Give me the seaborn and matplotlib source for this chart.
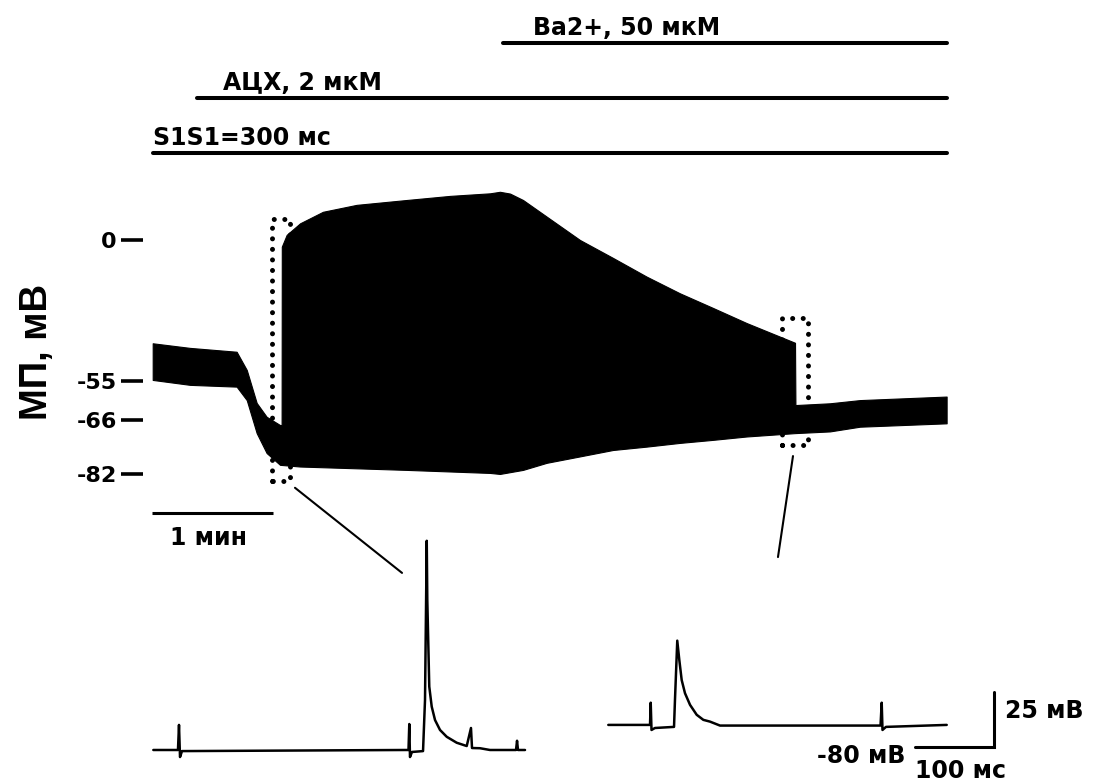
import numpy as np
import matplotlib
matplotlib.use("Agg")
import matplotlib.pyplot as plt
from matplotlib.patches import ConnectionPatch
import seaborn as sns

sns.set_theme(style="white")
plt.rcParams["font.family"] = ["DejaVu Sans"]
plt.rcParams["text.color"] = "black"
plt.rcParams["ytick.color"] = "black"
plt.rcParams["xtick.color"] = "black"
plt.rcParams["axes.labelcolor"] = "black"

# ---------------- data ----------------
# Envelope of the membrane potential over the whole recording (t in s, mV)
top_t = [0.0, 18.4, 41.4, 46.4, 51.3, 56.2, 62.8, 63.6, 63.7, 66.1, 72.7, 84.0,
         100.6, 125.3, 146.7, 166.4, 171.3, 176.3, 182.7, 194.4, 210.8, 227.1, 243.7,
         260.1, 276.4, 293.0, 316.9, 317.1, 334.1, 348.9, 391.7]
top_mv = [-40.3, -42.1, -43.6, -50.7, -61.2, -65.1, -67.5, -67.5, -2.6, 2.0, 6.5, 11.0,
          13.7, 15.6, 17.2, 18.2, 18.8, 18.1, 15.6, 9.1, 0.0, -7.0, -14.3,
          -20.8, -26.5, -32.4, -40.1, -61.8, -61.3, -60.4, -59.4]
bot_t = [0.0, 18.4, 41.4, 46.4, 51.3, 56.2, 62.8, 72.7, 125.3, 166.4, 171.3, 182.7,
         194.4, 210.8, 227.1, 243.7, 260.1, 276.4, 293.0, 316.9, 334.1, 348.9, 391.7]
bot_mv = [-54.6, -56.1, -56.6, -60.4, -69.9, -75.8, -79.3, -79.8, -80.8, -81.7, -82.0, -80.8,
          -78.7, -76.8, -74.9, -73.9, -72.8, -71.9, -70.9, -69.9, -69.4, -68.0, -67.0]

ytick_values = [0, -55, -66, -82]
ytick_labels = ["0", "-55", "-66", "-82"]

# Application protocol (start, end in s)
protocol_labels = ["S1S1=300 мс", "АЦХ, 2 мкМ", "Ba2+, 50 мкМ"]
protocol_start = [0.0, 22.0, 173.0]
protocol_end = [392.0, 392.0, 392.0]

# Expanded fragments (t in ms, mV)
frag1_t = [4.2, 35.4, 36.7, 38.0, 40.5, 322.8, 327.2, 328.2, 329.1, 331.6, 345.6, 348.1,
           350.3, 351.0, 353.5, 356.6, 360.8, 367.1, 375.6, 388.2, 400.9, 406.3, 407.6,
           417.7, 430.4, 463.3, 464.6, 465.8, 474.7]
frag1_mv = [-81.5, -81.5, -70.1, -84.7, -82.0, -81.5, -81.5, -69.7, -84.7, -82.4, -82.0, -58.8,
            13.6, -13.3, -52.7, -61.8, -67.9, -72.4, -75.5, -78.2, -79.7, -71.5, -80.6,
            -80.7, -81.5, -81.5, -77.3, -81.5, -81.5]
frag2_t = [10.5, 63.3, 64.2, 65.2, 69.6, 93.7, 94.9, 97.8, 100.4, 103.4, 107.6, 114.0,
           122.4, 130.8, 139.2, 151.9, 355.1, 356.6, 357.6, 362.0, 438.9]
frag2_mv = [-70.1, -70.1, -60.0, -72.4, -71.5, -71.0, -58.8, -31.8, -40.6, -49.7, -55.7, -61.0,
            -65.5, -67.8, -68.6, -70.4, -70.4, -60.0, -72.4, -71.0, -70.1]

# Scale bars
time_bar_s = 60          # 1 мин
frag_bar_ms = 100        # 100 мс
frag_bar_mv = 25         # 25 мВ
frag_bar_base = -80      # -80 мВ

# ---------------- figure ----------------
W, H = 1097, 783
fig = plt.figure(figsize=(W / 100, H / 100), dpi=100)
fig.patch.set_facecolor("white")


def px_axes(x0, x1, y0, y1):
    """Axes placed by pixel edges (y measured from the top)."""
    a = fig.add_axes([x0 / W, 1 - y1 / H, (x1 - x0) / W, (y1 - y0) / H])
    a.set_facecolor("none")
    return a


# Main recording: piecewise-linear voltage axis following the labelled levels
V_KNOTS = [-200.0, -82.0, -66.0, -55.0, 0.0, 100.0]
P_KNOTS = [-872.25, -474.0, -420.0, -381.0, -240.0, 16.36]


def fwd(v):
    return np.interp(v, V_KNOTS, P_KNOTS)


def inv(p):
    return np.interp(p, P_KNOTS, V_KNOTS)


ax = px_axes(143.3, 960, 170, 560)
ax.set_yscale("function", functions=(fwd, inv))
ax.set_xlim(-4.64, 398.3)
ax.set_ylim(-107.5, 27.3)

grid = np.array(sorted(set(top_t) | set(bot_t)))
upper = np.interp(grid, top_t, top_mv)
lower = np.interp(grid, bot_t, bot_mv)
ax.fill_between(grid, lower, upper, color="black", lw=0.8, zorder=3)

dots = dict(color="black", lw=3.6, ls=(0, (0.01, 2.1)), dash_capstyle="round",
            zorder=2, clip_on=False)
ax.plot([59.0, 59.0, 67.7, 67.7, 59.0], [-84.1, 8.1, 8.1, -84.1, -84.1], **dots)
ax.plot([310.3, 310.3, 323.3, 323.3, 310.3], [-73.4, -30.4, -30.4, -73.4, -73.4], **dots)

ax.set_xticks([])
ax.set_yticks(ytick_values)
ax.set_yticklabels(ytick_labels)
ax.minorticks_off()
ax.tick_params(axis="y", length=15.5, width=2.6, pad=3.6, labelsize=16,
               direction="out", colors="black", left=True)
for lbl in ax.get_yticklabels():
    lbl.set_fontweight("bold")
for s in ax.spines.values():
    s.set_visible(False)

# 1 min scale bar
ax.plot([-0.5, -0.5 + time_bar_s], [-93.5, -93.5], color="black", lw=2.2,
        solid_capstyle="butt", clip_on=False)
ax.text(8.5, -103.0, "1 мин", fontsize=17, fontweight="bold", ha="left",
        va="baseline")

fig.text(46.7 / W, 1 - 351.7 / H, "МП, мВ", rotation=90, rotation_mode="anchor",
         ha="center", va="baseline", fontsize=27.5, fontweight="bold",
         family=["Liberation Sans", "DejaVu Sans"])

# Protocol bars
axp = px_axes(143.3, 960, 10, 170)
axp.set_xlim(ax.get_xlim())
axp.set_ylim(-0.304, 2.606)
axp.axis("off")
label_shift = [0.0, 12.5, 14.8]
for i, (lab, s0, s1) in enumerate(zip(protocol_labels, protocol_start, protocol_end)):
    axp.plot([s0, s1], [i, i], color="black", lw=2.9, solid_capstyle="round")
    axp.text(s0 + label_shift[i], i + 0.155, lab, fontsize=17, fontweight="bold",
             ha="left", va="baseline")

# Expanded fragments
ax1 = px_axes(150, 530, 530, 760)
ax2 = px_axes(600, 1010, 530, 760)
for a, t, v, xmax in [(ax1, frag1_t, frag1_mv, 481.0), (ax2, frag2_t, frag2_mv, 519.0)]:
    sns.lineplot(x=t, y=v, ax=a, color="black", lw=1.8, sort=False, estimator=None)
    a.set_xlim(0, xmax)
    a.set_ylim(-86.05, 18.5)
    a.axis("off")

x0 = 398.7
ax2.plot([x0, x0 + frag_bar_ms, x0 + frag_bar_ms],
         [frag_bar_base, frag_bar_base, frag_bar_base + frag_bar_mv],
         color="black", lw=2.2, solid_joinstyle="miter", clip_on=False)
ax2.text(386.1, -87.5, "-80 мВ", fontsize=17, fontweight="bold", ha="right", va="baseline")
ax2.text(x0, -94.4, "100 мс", fontsize=17, fontweight="bold", ha="left", va="baseline")
ax2.text(512.7, -67.1, "25 мВ", fontsize=17, fontweight="bold", ha="left", va="baseline")

# Connectors from the marked regions to the fragments
for xyA, xyB, axB in [((70.2, -86.1), (319.0, -1.0), ax1),
                      ((315.9, -76.7), (225.3, 6.2), ax2)]:
    con = ConnectionPatch(xyA=xyA, coordsA=ax.transData, xyB=xyB, coordsB=axB.transData,
                          color="black", lw=1.5)
    fig.add_artist(con)

fig.savefig("out.png", dpi=100)
